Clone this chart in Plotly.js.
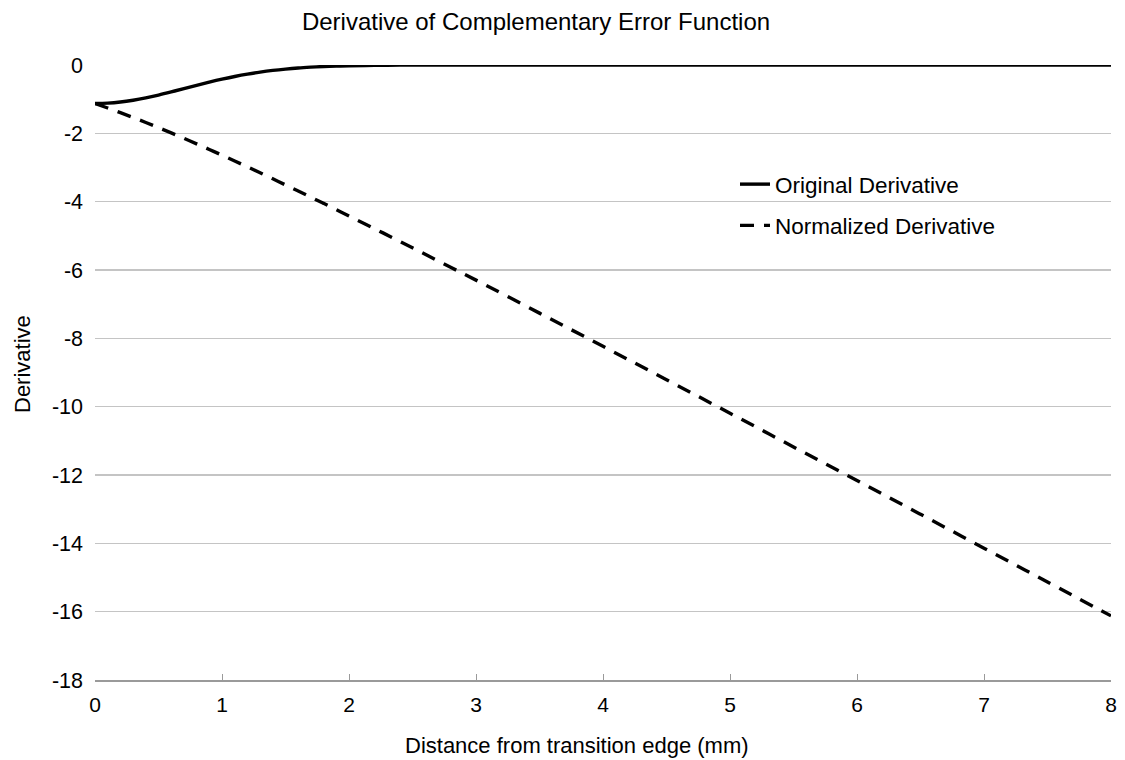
<!DOCTYPE html>
<html>
<head>
<meta charset="utf-8">
<script src="https://cdn.plot.ly/plotly-3.0.1.min.js"></script>
<style>html,body{margin:0;padding:0;background:#fff;}#chart{width:1125px;height:760px;}</style>
</head>
<body>
<div id="chart"></div>
<script>
// Distance from transition edge (mm)
const xValues = [0, 0.1, 0.2, 0.3, 0.4, 0.5, 0.6, 0.7, 0.8, 0.9, 1.0, 1.1, 1.2, 1.3, 1.4, 1.5, 1.6, 1.7, 1.8, 1.9, 2.0,
                 2.2, 2.4, 2.6, 2.8, 3.0, 3.5, 4.0, 4.5, 5.0, 5.5, 6.0, 6.5, 7.0, 7.5, 8.0];
// Original derivative
const originalDerivative = [-1.128, -1.117, -1.084, -1.031, -0.962, -0.879, -0.787, -0.691, -0.595, -0.502, -0.415,
                            -0.336, -0.267, -0.208, -0.159, -0.119, -0.087, -0.063, -0.044, -0.031, -0.021,
                            -0.009, -0.004, -0.001, 0, 0, 0, 0, 0, 0, 0, 0, 0, 0, 0, 0];
// Normalized derivative
const normalizedDerivative = [-1.128, -1.259, -1.395, -1.536, -1.682, -1.833, -1.987, -2.146, -2.307, -2.472, -2.639,
                              -2.809, -2.981, -3.155, -3.331, -3.510, -3.688, -3.869, -4.050, -4.233, -4.419,
                              -4.789, -5.161, -5.540, -5.920, -6.296, -7.262, -8.234, -9.211, -10.192, -11.178,
                              -12.162, -13.150, -14.141, -15.131, -16.123];
const yTicks = [0, -2, -4, -6, -8, -10, -12, -14, -16, -18];
const xTicks = [0, 1, 2, 3, 4, 5, 6, 7, 8];

const FONT = 'Liberation Sans, Arial, sans-serif';
const W = 1125, H = 760, L = 95, R = 14, T = 65, B = 80;
const PW = W - L - R, PH = H - T - B;

const traces = [
  {x: xValues, y: originalDerivative, name: 'Original Derivative', mode: 'lines',
   line: {color: '#000', width: 3.4, shape: 'spline'}, legendgroup: 'a'},
  {x: xValues, y: normalizedDerivative, name: 'Normalized Derivative', mode: 'lines',
   line: {color: '#000', width: 3.4, dash: '14px,10px', shape: 'spline'}, legendgroup: 'b'}
];

const layout = {
  width: W, height: H,
  margin: {l: L, r: R, t: T, b: B},
  paper_bgcolor: '#fff', plot_bgcolor: '#fff',
  font: {family: FONT, size: 21, color: '#000'},
  title: {text: 'Derivative of Complementary Error Function', font: {family: FONT, size: 24, color: '#000'},
          x: 536 / W, xanchor: 'center', xref: 'container', y: 1 - 22 / H, yanchor: 'middle', yref: 'container'},
  xaxis: {range: [0, 8], tickvals: xTicks, ticktext: xTicks.map(String), showgrid: false, zeroline: false,
          showline: true, linecolor: '#9a9a9a', linewidth: 1.5, ticks: 'inside', ticklen: 6, tickcolor: '#9a9a9a',
          tickfont: {family: FONT, size: 21, color: '#000'}, ticklabelstandoff: 5, fixedrange: true},
  yaxis: {range: [-18, 0], tickvals: yTicks, ticktext: yTicks.map(String), showgrid: true, gridcolor: '#c4c4c4',
          gridwidth: 1.3, zeroline: false, showline: false, ticks: '',
          tickfont: {family: FONT, size: 21.5, color: '#000'}, ticklabelstandoff: 11, fixedrange: true},
  showlegend: true,
  legend: {x: (735 - L) / PW, y: (H - B - 163) / PH, xanchor: 'left', yanchor: 'top', bgcolor: 'rgba(0,0,0,0)',
           font: {family: FONT, size: 22.5, color: '#000'}, traceorder: 'grouped', tracegroupgap: 9,
           itemwidth: 30},
  annotations: [
    {text: 'Distance from transition edge (mm)', xref: 'paper', yref: 'paper', x: (577 - L) / PW,
     y: -(745 - (H - B)) / PH, xanchor: 'center', yanchor: 'middle', showarrow: false,
     font: {family: FONT, size: 22, color: '#000'}},
    {text: 'Derivative', xref: 'paper', yref: 'paper', x: -(L - 22) / PW, y: (H - B - 364) / PH, textangle: -90,
     xanchor: 'center', yanchor: 'middle', showarrow: false, font: {family: FONT, size: 22, color: '#000'}}
  ]
};

Plotly.newPlot('chart', traces, layout, {displayModeBar: false, staticPlot: true});
</script>
</body>
</html>
